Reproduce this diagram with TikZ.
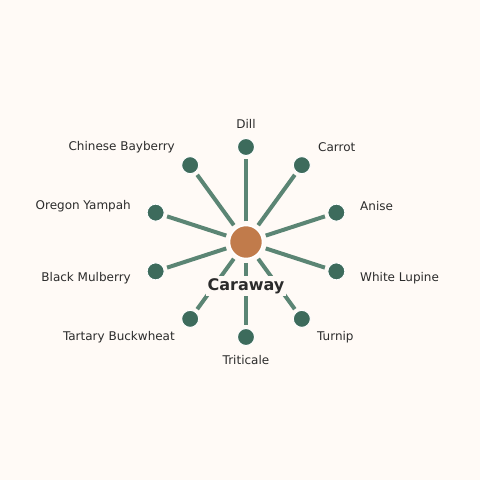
\documentclass[tikz,border=0pt]{standalone}
\usepackage{fontspec}
\setmainfont{DejaVu Sans}
\usetikzlibrary{calc}
\definecolor{bg}{HTML}{FFFAF6}
\definecolor{spoke}{HTML}{5B8574}
\definecolor{leaf}{HTML}{3D6B5C}
\definecolor{hub}{HTML}{C17B4B}
\definecolor{txt}{HTML}{2B2B2B}
\tikzset{
  hubnode/.style={circle, fill=hub, draw=white, line width=1.5pt, minimum size=33pt, inner sep=0pt},
  leafnode/.style={circle, fill=leaf, draw=white, line width=1pt, minimum size=17pt, inner sep=0pt},
  spokeline/.style={draw=spoke, line width=4pt, shorten <=3.5pt, shorten >=3pt},
  lbl/.style={text=txt, font=\fontsize{12}{14}\selectfont, inner sep=0pt},
  hublbl/.style={text=txt, font=\fontsize{16}{19}\selectfont\bfseries, fill=bg, inner sep=2pt}
}
\begin{document}
\begin{tikzpicture}[x=1pt,y=-1pt]
\fill[bg] (0,0) rectangle (480,480);
\useasboundingbox (0,0) rectangle (480,480);
\node[hubnode] (c) at (246,242) {};
\foreach \i/\a in {1/90,2/54,3/18,4/-18,5/-54,6/-90,7/-126,8/-162,9/162,10/126}{
  \node[leafnode] (n\i) at ($(246,242)+(\a:95pt)$) {};
}
\foreach \i in {1,...,10}{
  \draw[spokeline] (c) -- (n\i);
}
\node[hublbl] (cl) at (246,286) {Caraway};
\node[lbl] (l1) at (246,124) {Dill};
\node[lbl, anchor=west] (l2) at (318,147) {Carrot};
\node[lbl, anchor=west] (l3) at (360,206) {Anise};
\node[lbl, anchor=west] (l4) at (360,278) {White Lupine};
\node[lbl, anchor=west] (l5) at (317,337) {Turnip};
\node[lbl] (l6) at (246,360) {Triticale};
\node[lbl, anchor=east] (l7) at (175,337) {Tartary Buckwheat};
\node[lbl, anchor=east] (l8) at (131,278) {Black Mulberry};
\node[lbl, anchor=east] (l9) at (131,206) {Oregon Yampah};
\node[lbl, anchor=east] (l10) at (175,147) {Chinese Bayberry};
\end{tikzpicture}
\end{document}
